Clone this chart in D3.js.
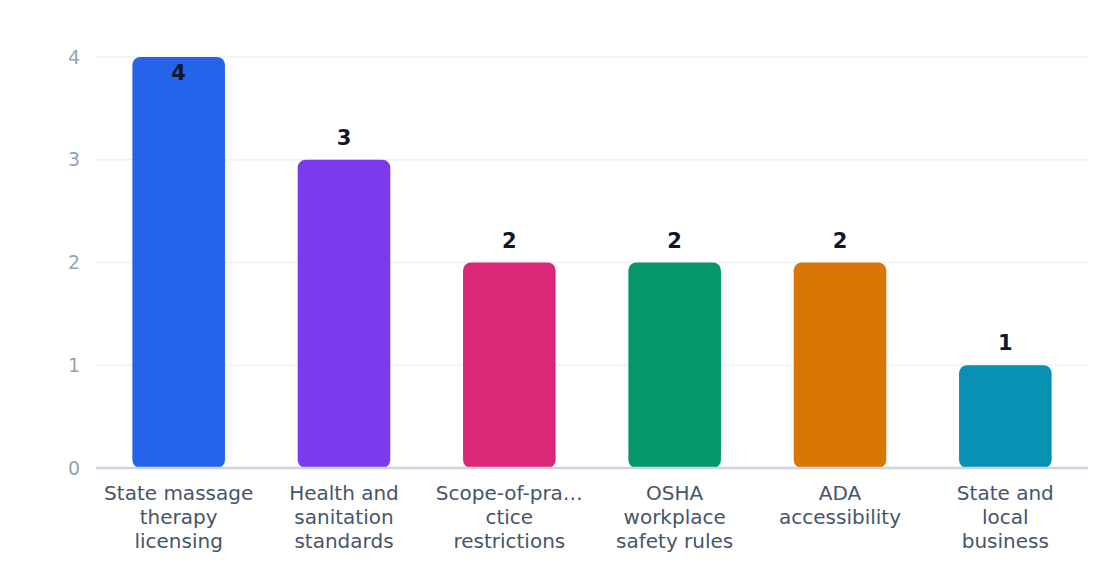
<!DOCTYPE html>
<html>
<head>
    <meta charset="utf-8">
    <title>Regulation categories</title>
    <script src="https://cdn.jsdelivr.net/npm/d3@7"></script>
    <style>
        body { margin: 0; background: #ffffff; }
        svg { display: block; font-family: "DejaVu Sans", sans-serif; }
    </style>
</head>
<body>
    <script>
        var categories = [
            ["State massage", "therapy", "licensing"],
            ["Health and", "sanitation", "standards"],
            ["Scope-of-pra\u2026", "ctice", "restrictions"],
            ["OSHA", "workplace", "safety rules"],
            ["ADA", "accessibility"],
            ["State and", "local", "business"]
        ];
        var values = [4, 3, 2, 2, 2, 1];
        var colors = ["#2563eb", "#7c3aed", "#db2777", "#059669", "#d97706", "#0891b2"];
        var yTicks = [0, 1, 2, 3, 4];

        var width = 1120;
        var height = 584;
        var margin = { "top": 57, "bottom": 116, "right": 32, "left": 96 };

        var svg = d3.select("body").append("svg").attr("width", width).attr("height", height);

        var ids = d3.range(values.length);
        var xScale = d3.scaleBand()
            .domain(ids)
            .range([margin.left, width - margin.right])
            .paddingInner(0.44)
            .paddingOuter(0.22);
        var yScale = d3.scaleLinear()
            .domain([0, 4])
            .range([height - margin.bottom, margin.top]);

        // グリッド線
        svg.append("g")
            .selectAll("line")
            .data(yTicks.slice(1))
            .enter()
            .append("line")
            .attr("x1", margin.left)
            .attr("x2", width - margin.right)
            .attr("y1", function (d) { return yScale(d); })
            .attr("y2", function (d) { return yScale(d); })
            .attr("stroke", "#eef1f5")
            .attr("stroke-width", 1.5);

        // y軸
        var axisy = d3.axisLeft(yScale).tickValues(yTicks).tickFormat(d3.format("d")).tickSize(0).tickPadding(16);
        var gy = svg.append("g")
            .attr("transform", "translate(" + margin.left + ",0)")
            .call(axisy);
        gy.select(".domain").remove();
        gy.selectAll("text")
            .attr("fill", "#94a3b8")
            .attr("font-size", "19px")
            .attr("font-family", "DejaVu Sans");

        // 棒
        svg.append("g")
            .selectAll("rect")
            .data(values)
            .enter()
            .append("rect")
            .attr("x", function (d, i) { return xScale(i); })
            .attr("y", function (d) { return yScale(d); })
            .attr("width", xScale.bandwidth())
            .attr("height", function (d) { return yScale(0) - yScale(d); })
            .attr("rx", 8)
            .attr("fill", function (d, i) { return colors[i]; });

        // ベースライン
        svg.append("line")
            .attr("x1", margin.left)
            .attr("x2", width - margin.right)
            .attr("y1", yScale(0))
            .attr("y2", yScale(0))
            .attr("stroke", "#cbd5e1")
            .attr("stroke-width", 2.5);

        // 値ラベル
        svg.append("g")
            .selectAll("text")
            .data(values)
            .enter()
            .append("text")
            .attr("x", function (d, i) { return xScale(i) + xScale.bandwidth() / 2; })
            .attr("y", function (d) { return Math.max(yScale(d) - 15, 80); })
            .attr("text-anchor", "middle")
            .attr("font-size", "21px")
            .attr("font-weight", "bold")
            .attr("fill", "#0f172a")
            .text(function (d) { return d; });

        // カテゴリラベル
        var lab = svg.append("g")
            .selectAll("text")
            .data(categories)
            .enter()
            .append("text")
            .attr("x", function (d, i) { return xScale(i) + xScale.bandwidth() / 2; })
            .attr("y", yScale(0) + 32)
            .attr("text-anchor", "middle")
            .attr("font-size", "20px")
            .attr("fill", "#475569");
        lab.selectAll("tspan")
            .data(function (d) { return d; })
            .enter()
            .append("tspan")
            .attr("x", function () { return d3.select(this.parentNode).attr("x"); })
            .attr("dy", function (d, j) { return j === 0 ? 0 : 24; })
            .text(function (d) { return d; });
    </script>
</body>
</html>
